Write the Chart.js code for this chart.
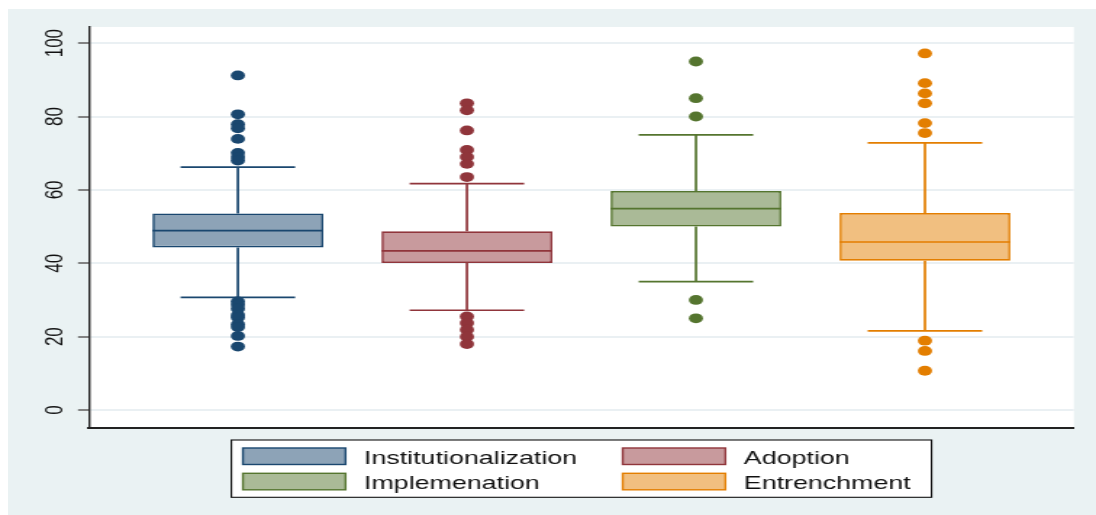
<!DOCTYPE html>
<html>
<head>
<meta charset="utf-8">
<script src="https://cdn.jsdelivr.net/npm/chart.js@4/dist/chart.umd.min.js"></script>
<style>
  html, body { margin: 0; padding: 0; background: #ffffff; }
  #frame { position: absolute; left: 8px; top: 9px; width: 1088px; height: 506px; background: #eaf2f3; }
</style>
</head>
<body>
<div id="frame"></div>
<canvas id="chart" width="756" height="515" style="position:absolute;left:0;top:0;width:1096px;height:515px"></canvas>
<script>
// Groups and box-plot summary statistics (score, 0-100)
const categories = ['Institutionalization', 'Adoption', 'Implemenation', 'Entrenchment'];
const lowerWhisker  = [30.7, 27.2, 35.0, 21.6];
const lowerQuartile = [44.3, 40.1, 50.0, 40.7];
const medianValue   = [48.9, 43.4, 54.9, 45.8];
const upperQuartile = [53.6, 48.7, 59.7, 53.7];
const upperWhisker  = [66.2, 61.7, 75.0, 72.8];

// Observations outside the whiskers
const outliersInstitutionalization = [91.2, 80.6, 77.9, 76.8, 73.9, 70.1, 69.0, 68.0,
                                      29.6, 28.7, 27.6, 25.9, 25.2, 23.4, 22.6, 20.2, 17.3];
const outliersAdoption = [83.6, 81.7, 76.2, 70.9, 69.0, 67.1, 63.5, 25.5, 23.7, 21.9, 20.0, 18.0];
const outliersImplemenation = [95.0, 85.0, 80.0, 30.0, 25.0];
const outliersEntrenchment = [97.2, 89.1, 86.3, 83.6, 78.2, 75.5, 18.9, 16.1, 10.7];
const outliers = [outliersInstitutionalization, outliersAdoption, outliersImplemenation, outliersEntrenchment];

const yTickValues = [0, 20, 40, 60, 80, 100];

// Stata s2color palette: outline and 50% tint
const lineColors = ['#1a476f', '#90353b', '#55752f', '#e37e00'];
const fillColors = ['#8da3b7', '#c89a9d', '#aaba97', '#f1bf80'];

const BOX_FRACTION = 0.746;   // box width as a share of the group spacing
const BOX_HALF = BOX_FRACTION / 2;
const CAP_HALF = 0.25;        // half width of the whisker caps

function whiskerPoints(i) {
  const c = i + 1;
  const gap = { x: c, y: null };
  return [
    { x: c, y: upperQuartile[i] }, { x: c, y: upperWhisker[i] }, gap,
    { x: c - CAP_HALF, y: upperWhisker[i] }, { x: c + CAP_HALF, y: upperWhisker[i] }, gap,
    { x: c, y: lowerQuartile[i] }, { x: c, y: lowerWhisker[i] }, gap,
    { x: c - CAP_HALF, y: lowerWhisker[i] }, { x: c + CAP_HALF, y: lowerWhisker[i] }, gap,
    { x: c - BOX_HALF, y: medianValue[i] }, { x: c + BOX_HALF, y: medianValue[i] }
  ];
}

const outlierSets = categories.map((name, i) => ({
  type: 'scatter',
  label: name + ' outliers',
  data: outliers[i].map(v => ({ x: i + 1, y: v })),
  backgroundColor: lineColors[i],
  borderColor: lineColors[i],
  borderWidth: 0,
  pointRadius: 4.9,
  pointStyle: 'circle',
  order: 0
}));

const whiskerSets = categories.map((name, i) => ({
  type: 'line',
  label: name + ' whiskers',
  data: whiskerPoints(i),
  borderColor: lineColors[i],
  borderWidth: 1.7,
  pointRadius: 0,
  spanGaps: false,
  fill: false,
  tension: 0,
  order: 1
}));

const boxSet = {
  type: 'bar',
  label: 'Interquartile range',
  data: categories.map((name, i) => ({ x: i + 1, y: [lowerQuartile[i], upperQuartile[i]] })),
  backgroundColor: fillColors,
  borderColor: lineColors,
  borderWidth: 1.7,
  borderSkipped: false,
  categoryPercentage: 1,
  barPercentage: BOX_FRACTION,
  order: 2
};

// White plot region
const plotBackground = {
  id: 'plotBackground',
  beforeDraw(chart) {
    const { ctx, chartArea: a } = chart;
    ctx.save();
    ctx.fillStyle = '#ffffff';
    ctx.fillRect(a.left, a.top, a.right - a.left, a.bottom - a.top);
    ctx.restore();
  }
};

// Two-column legend in a framed box under the plot
const boxLegend = {
  id: 'boxLegend',
  afterDraw(chart) {
    const ctx = chart.ctx;
    const a = chart.chartArea;
    const w = 483, h = 57.3;
    const left = (a.left + a.right) / 2 - w / 2;
    const top = a.bottom + 12;
    ctx.save();
    ctx.fillStyle = '#ffffff';
    ctx.fillRect(left, top, w, h);
    ctx.strokeStyle = '#111111';
    ctx.lineWidth = 1.1;
    ctx.strokeRect(left, top, w, h);
    ctx.font = '18.5px "Liberation Sans", Arial, sans-serif';
    ctx.textAlign = 'left';
    ctx.textBaseline = 'alphabetic';
    categories.forEach((name, i) => {
      const col = i % 2, row = Math.floor(i / 2);
      const sx = left + 8 + col * 262;
      const sy = top + 8 + row * 25.3;
      ctx.fillStyle = fillColors[i];
      ctx.fillRect(sx, sy, 70.8, 16.5);
      ctx.strokeStyle = lineColors[i];
      ctx.lineWidth = 1.4;
      ctx.strokeRect(sx, sy, 70.8, 16.5);
      ctx.fillStyle = '#111111';
      ctx.fillText(name, sx + 83.5, sy + 15.6);
    });
    ctx.restore();
  }
};

Chart.defaults.font.family = '"Liberation Sans", Arial, sans-serif';

new Chart(document.getElementById('chart'), {
  type: 'bar',
  data: { datasets: [...outlierSets, ...whiskerSets, boxSet] },
  options: {
    responsive: false,
    animation: false,
    events: [],
    layout: { padding: { top: 27, bottom: 87, left: 0, right: 15.3 } },
    plugins: { legend: { display: false }, tooltip: { enabled: false } },
    scales: {
      x: {
        type: 'linear',
        offset: false,
        min: 0.35,
        max: 4.65,
        afterBuildTicks(scale) { scale.ticks = categories.map((c, i) => ({ value: i + 1 })); },
        afterFit(scale) { scale.height = 0; },
        ticks: { display: false },
        grid: { display: false },
        border: { display: true, color: '#222222', width: 2 }
      },
      y: {
        type: 'linear',
        min: -4.9,
        max: 104.4,
        stacked: false,
        afterBuildTicks(scale) { scale.ticks = yTickValues.map(v => ({ value: v })); },
        afterFit(scale) { scale.width = 61.4; },
        ticks: {
          minRotation: 90,
          maxRotation: 90,
          crossAlign: 'center',
          padding: 1,
          color: '#111111',
          font: { size: 17 }
        },
        grid: {
          color: '#eaf0f3',
          lineWidth: 2,
          tickColor: '#707070',
          tickLength: 7.6,
          tickWidth: 1.7
        },
        border: { display: true, color: '#222222', width: 1.4 }
      }
    }
  },
  plugins: [plotBackground, boxLegend]
});
</script>
</body>
</html>
